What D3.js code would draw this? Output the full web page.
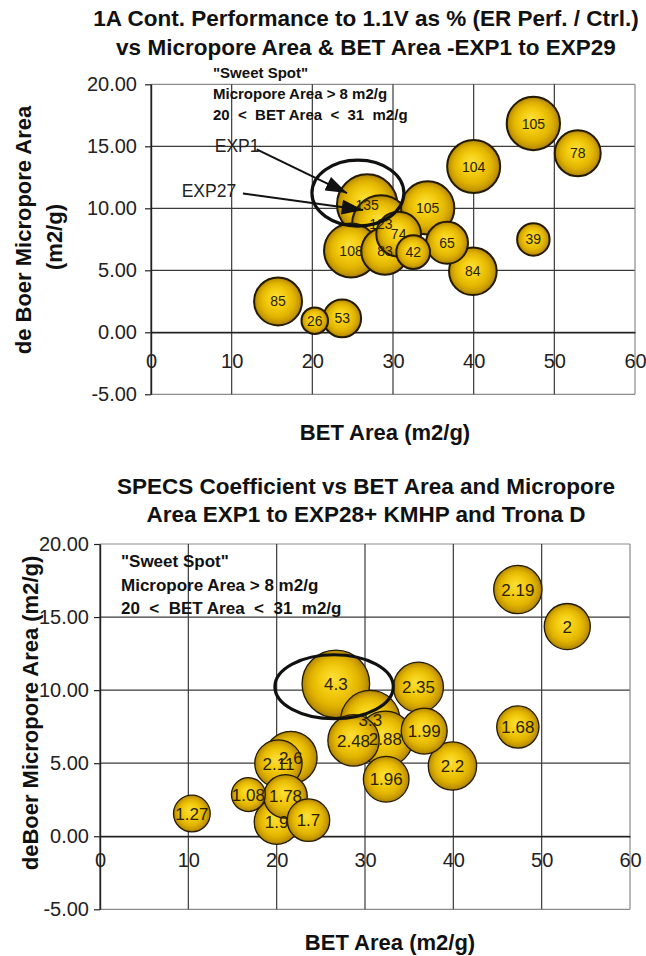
<!DOCTYPE html>
<html>
<head>
<meta charset="utf-8">
<script src="https://cdn.jsdelivr.net/npm/d3@7"></script>
<style>
  html, body { margin: 0; padding: 0; background: #fff; }
  svg { display: block; }
  text { font-family: "Liberation Sans", Arial, Helvetica, sans-serif; }
</style>
</head>
<body>
<svg id="chart" width="646" height="956"></svg>
<script>
// ---- Chart 1: 1A continuous performance (% of control) ----
const betArea1   = [47.4, 52.9, 40.0, 26.8, 34.3, 28.5, 30.7, 29.0, 32.5, 24.8, 36.7, 39.9, 47.4, 15.75, 20.3, 23.7];
const micropore1 = [16.84, 14.44, 13.37, 10.3, 10.03, 8.72, 7.91, 6.55, 6.47, 6.6, 7.22, 4.92, 7.49, 2.49, 0.94, 1.12];
const perf1      = [105, 78, 104, 135, 105, 123, 74, 83, 42, 108, 65, 84, 39, 85, 26, 53];

// ---- Chart 2: SPECS coefficient ----
const betArea2   = [47.3, 52.9, 26.7, 36.05, 30.6, 28.7, 32.3, 36.7, 39.9, 32.4, 47.3, 21.6, 20.2, 16.8, 21.0, 20.0, 23.6, 10.4];
const micropore2 = [16.88, 14.35, 10.43, 10.2, 7.95, 6.56, 6.67, 7.2, 4.81, 3.9, 7.47, 5.38, 4.97, 2.85, 2.73, 0.98, 1.1, 1.55];
const specs2     = [2.19, 2, 4.3, 2.35, 3.3, 2.48, 2.88, 1.99, 2.2, 1.96, 1.68, 2.6, 2.11, 1.08, 1.78, 1.9, 1.7, 1.27];

// ---- Axis ticks (shared) ----
const xTicks = [0, 10, 20, 30, 40, 50, 60];
const yTicks = [-5, 0, 5, 10, 15, 20];

const svg = d3.select("#chart");
const defs = svg.append("defs");

// shaded ball fill
const grad = defs.append("radialGradient").attr("id", "ball")
  .attr("cx", "50%").attr("cy", "50%").attr("r", "50%")
  .attr("fx", "45%").attr("fy", "40%");
[["0%", "#fbdf3a"], ["40%", "#f3cc10"], ["70%", "#e2b500"], ["88%", "#c89a00"], ["100%", "#a77e00"]]
  .forEach(([o, c]) => grad.append("stop").attr("offset", o).attr("stop-color", c));

defs.append("marker").attr("id", "arrowHead")
  .attr("markerUnits", "userSpaceOnUse")
  .attr("viewBox", "0 0 20 14").attr("refX", 20).attr("refY", 7)
  .attr("markerWidth", 22).attr("markerHeight", 15).attr("orient", "auto")
  .append("path").attr("d", "M0,0 L20,7 L0,14 Z").attr("fill", "#111");

function drawChart(cfg) {
  const g = svg.append("g");
  const x = d3.scaleLinear().domain([0, 60]).range(cfg.xRange);
  const y = d3.scaleLinear().domain([-5, 20]).range(cfg.yRange);
  const r = d3.scaleSqrt().domain([0, 1]).range([0, cfg.rUnit]);

  // titles
  cfg.title.forEach((t, i) => {
    g.append("text").attr("x", cfg.titleX).attr("y", cfg.titleY + i * cfg.titleGap)
      .attr("text-anchor", "middle").attr("font-size", 22.5).attr("font-weight", "bold")
      .attr("fill", "#111").text(t);
  });

  // grid
  const grid = g.append("g");
  grid.selectAll(".h").data(yTicks).join("line")
    .attr("x1", x(0)).attr("x2", x(60))
    .attr("y1", d => y(d)).attr("y2", d => y(d))
    .attr("stroke", d => (d === 20 || d === -5) ? "#8a8a8a" : "#3a3a3a").attr("stroke-width", 1.2);
  grid.selectAll(".v").data(xTicks).join("line")
    .attr("x1", d => x(d)).attr("x2", d => x(d))
    .attr("y1", y(20)).attr("y2", y(-5))
    .attr("stroke", d => d === 60 ? "#8a8a8a" : "#3a3a3a").attr("stroke-width", 1.2);

  // y axis
  const yAxis = g.append("g").attr("transform", `translate(${x(0)},0)`)
    .call(d3.axisLeft(y).tickValues(yTicks).tickFormat(d => d.toFixed(2)).tickSize(6).tickPadding(cfg.yPad).tickSizeOuter(0));
  yAxis.select(".domain").attr("stroke", "#222").attr("stroke-width", 1.4);
  yAxis.selectAll(".tick line").attr("stroke", "#222").attr("stroke-width", 1.2);
  yAxis.selectAll("text").attr("font-size", 20).attr("fill", "#222")
    .attr("font-family", '"Liberation Sans", Arial, sans-serif');

  // x axis through y = 0
  const xAxis = g.append("g").attr("transform", `translate(0,${y(0)})`)
    .call(d3.axisBottom(x).tickValues(xTicks).tickSize(0).tickPadding(cfg.xPad).tickSizeOuter(0));
  xAxis.select(".domain").attr("stroke", "#222").attr("stroke-width", 1.4);
  xAxis.selectAll("text").attr("font-size", 20).attr("fill", "#222")
    .attr("font-family", '"Liberation Sans", Arial, sans-serif');

  // axis titles
  g.append("text").attr("x", cfg.xTitle[0]).attr("y", cfg.xTitle[1])
    .attr("text-anchor", "middle").attr("font-size", 22).attr("font-weight", "bold")
    .attr("fill", "#111").text("BET Area (m2/g)");
  cfg.yTitle.forEach(t => {
    g.append("text").attr("transform", `translate(${t.x},${t.y}) rotate(-90)`)
      .attr("dy", "0.35em").attr("text-anchor", "middle").attr("font-size", 22)
      .attr("font-weight", "bold").attr("fill", "#111").text(t.text);
  });

  // bubbles, largest at the back
  const pts = cfg.bet.map((b, i) => ({ bx: b, my: cfg.micro[i], v: cfg.size[i] }))
    .sort((a, b) => b.v - a.v);
  g.append("g").selectAll("circle").data(pts).join("circle")
    .attr("cx", d => x(d.bx)).attr("cy", d => y(d.my)).attr("r", d => r(d.v))
    .attr("fill", "url(#ball)").attr("stroke", "#231a00").attr("stroke-width", cfg.ballStroke);
  g.append("g").selectAll("text").data(pts).join("text")
    .attr("x", d => x(d.bx)).attr("y", d => y(d.my)).attr("dy", "0.36em")
    .attr("text-anchor", "middle").attr("font-size", cfg.labelSize).attr("fill", "#2a2200")
    .text(d => d.v);

  // sweet spot note
  const note = g.append("text").attr("x", cfg.noteX).attr("y", cfg.noteY)
    .attr("font-size", cfg.noteSize).attr("font-weight", "bold").attr("fill", "#111")
    .attr("xml:space", "preserve").style("white-space", "pre");
  ['"Sweet Spot"', "Micropore Area > 8 m2/g", "20  <  BET Area  <  31  m2/g"].forEach((t, i) => {
    note.append("tspan").attr("x", cfg.noteX).attr("dy", i === 0 ? 0 : cfg.noteGap).text(t);
  });

  // sweet spot ring
  const e = cfg.ring;
  g.append("ellipse").attr("cx", x(e.cx)).attr("cy", y(e.cy))
    .attr("rx", x(e.cx + e.rx) - x(e.cx)).attr("ry", y(e.cy - e.ry) - y(e.cy))
    .attr("fill", "none").attr("stroke", "#111").attr("stroke-width", 3.2);

  return { g, x, y };
}

const c1 = drawChart({
  title: ["1A Cont. Performance to 1.1V as % (ER Perf. / Ctrl.)", "vs Micropore Area & BET Area -EXP1 to EXP29"],
  titleX: 366, titleY: 26, titleGap: 29,
  xRange: [151, 635], yRange: [394.3, 84.3],
  bet: betArea1, micro: micropore1, size: perf1, rUnit: 2.6,
  ballStroke: 2, labelSize: 14,
  yPad: 8, xPad: 22,
  xTitle: [385, 440],
  yTitle: [{ text: "de Boer Micropore Area", x: 23, y: 230 }, { text: "(m2/g)", x: 54, y: 237 }],
  noteX: 213, noteY: 78, noteSize: 15, noteGap: 21,
  ring: { cx: 25.65, cy: 11.23, rx: 5.7, ry: 2.66 }
});

// experiment call-outs on chart 1
const callouts = [
  { label: "EXP1",  tx: 7.9, ty: 14.55, from: [13.1, 14.75], to: [24.3, 11.23] },
  { label: "EXP27", tx: 3.8, ty: 10.95, from: [11.4, 11.2], to: [26.3, 9.86] }
];
callouts.forEach(c => {
  c1.g.append("line")
    .attr("x1", c1.x(c.from[0])).attr("y1", c1.y(c.from[1]))
    .attr("x2", c1.x(c.to[0])).attr("y2", c1.y(c.to[1]))
    .attr("stroke", "#111").attr("stroke-width", 2).attr("marker-end", "url(#arrowHead)");
  c1.g.append("text").attr("x", c1.x(c.tx)).attr("y", c1.y(c.ty))
    .attr("font-size", 17.5).attr("fill", "#222").text(c.label);
});

drawChart({
  title: ["SPECS Coefficient vs BET Area and Micropore", "Area EXP1 to EXP28+ KMHP and Trona D"],
  titleX: 366, titleY: 494, titleGap: 28,
  xRange: [100, 630], yRange: [909.3, 544],
  bet: betArea2, micro: micropore2, size: specs2, rUnit: 16.3,
  ballStroke: 1.3, labelSize: 17,
  yPad: 5, xPad: 17,
  xTitle: [390, 950],
  yTitle: [{ text: "deBoer Micropore Area (m2/g)", x: 30, y: 713 }],
  noteX: 121, noteY: 567, noteSize: 17, noteGap: 23.5,
  ring: { cx: 26.5, cy: 10.23, rx: 6.7, ry: 2.19 }
});
</script>
</body>
</html>
